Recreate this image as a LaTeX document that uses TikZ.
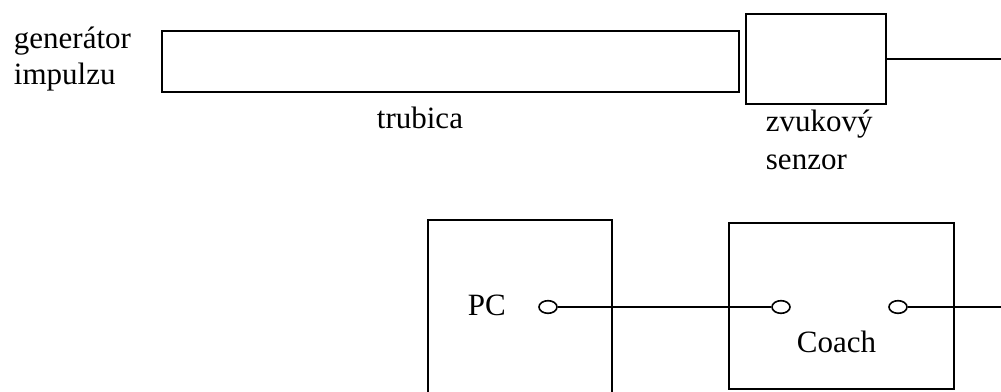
\documentclass[tikz,border=0pt]{standalone}
\usepackage{fontspec}
\setmainfont{Liberation Serif}
\usetikzlibrary{shapes.geometric}
\begin{document}
\begin{tikzpicture}[x=0.75pt,y=-0.75pt,
  line width=1.4pt,
  block/.style={draw,rectangle,inner sep=0pt},
  port/.style={draw,ellipse,inner sep=0pt,minimum width=13.5pt,minimum height=9.5pt,line width=1.2pt},
  label/.style={inner sep=0pt,anchor=base west,font=\fontsize{23.25}{28}\selectfont},
  wire/.style={line width=1.4pt}]
\useasboundingbox (0,0) rectangle (1001,392);

% acoustic tube and sound sensor
\node[block,minimum width=432.75pt,minimum height=45.75pt] (tube) at (450.5,61.5) {};
\node[block,minimum width=105pt,minimum height=67.5pt] (sensor) at (816,59) {};
\coordinate (sensorEnd) at (1001,59);
\draw[wire] (sensor.east) -- (sensorEnd);

% computer and interface
\node[block,minimum width=138pt,minimum height=135pt] (pc) at (520,310) {};
\node[block,minimum width=168.75pt,minimum height=124.5pt] (coach) at (841.5,306) {};

\node[port] (pcport) at (548,307) {};
\node[port] (coachin) at (781,307) {};
\node[port] (coachout) at (898,307) {};
\coordinate (coachEnd) at (1001,307);
\draw[wire] (pcport.east) -- (coachin.west);
\draw[wire] (coachout.east) -- (coachEnd);

% labels
\node[label] (gen1) at (13,49) {generátor};
\node[label] (gen2) at (13,85) {impulzu};
\node[label] (tubelabel) at (376,129) {trubica};
\node[label] (sens1) at (765,132) {zvukový};
\node[label] (sens2) at (765,170) {senzor};
\node[label] (pclabel) at (467,316) {PC};
\node[label] (coachlabel) at (796,353) {Coach};
\end{tikzpicture}
\end{document}
